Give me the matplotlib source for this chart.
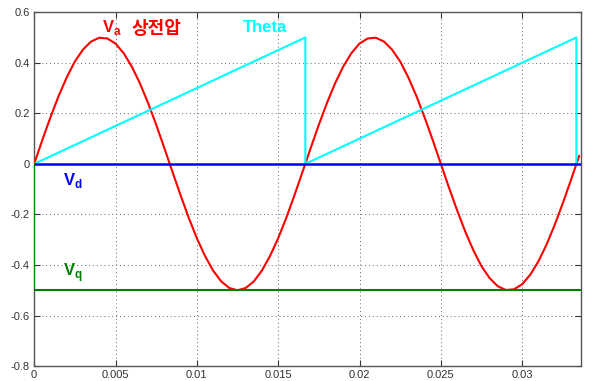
import matplotlib
matplotlib.use('Agg')
import matplotlib.pyplot as plt

plt.rcParams['font.family'] = ['Liberation Sans', 'Noto Sans CJK KR', 'DejaVu Sans']
plt.rcParams['mathtext.fontset'] = 'custom'
plt.rcParams['mathtext.rm'] = 'Liberation Sans:bold'
plt.rcParams['mathtext.bf'] = 'Liberation Sans:bold'

# time base for the phase voltage samples (s)
t_va = [i * 0.0005 for i in range(68)]
# Va phase voltage
va = [0.000, 0.094, 0.184, 0.268, 0.342, 0.405, 0.452, 0.484, 0.499, 0.496,
      0.476, 0.438, 0.385, 0.319, 0.241, 0.155, 0.063, -0.031, -0.124, -0.213,
      -0.294, -0.364, -0.422, -0.465, -0.491, -0.500, -0.491, -0.465, -0.422, -0.364,
      -0.294, -0.213, -0.124, -0.031, 0.063, 0.155, 0.241, 0.319, 0.385, 0.438,
      0.476, 0.496, 0.499, 0.484, 0.452, 0.405, 0.342, 0.268, 0.184, 0.094,
      0.000, -0.094, -0.184, -0.268, -0.342, -0.405, -0.452, -0.484, -0.499, -0.496,
      -0.476, -0.438, -0.385, -0.319, -0.241, -0.155, -0.063, 0.031]

# theta sawtooth
t_theta = [0, 0.01667, 0.01667, 0.03333, 0.03333]
theta = [0, 0.5, 0, 0.5, 0]

# d / q components
t_dq = [0, 0, 0.0336]
vd = [0, 0, 0]
vq = [0, -0.5, -0.5]

xticks = [0, 0.005, 0.01, 0.015, 0.02, 0.025, 0.03]
yticks = [-0.8, -0.6, -0.4, -0.2, 0, 0.2, 0.4, 0.6]

fig = plt.figure(figsize=(5.89, 3.81), dpi=100)
ax = fig.add_axes([0.058, 0.039, 0.928, 0.929])

ax.plot(t_va, va, color='#ff0000', lw=1.5, zorder=3)
ax.plot(t_theta, theta, color='#00ffff', lw=1.5, zorder=3)
ax.plot(t_dq, vd, color='#0000ff', lw=1.8, zorder=4)
ax.plot(t_dq, vq, color='#008000', lw=1.5, zorder=4)

ax.set_xlim(0, 0.0336)
ax.set_ylim(-0.8, 0.6)
ax.set_xticks(xticks)
ax.set_xticklabels(['0', '0.005', '0.01', '0.015', '0.02', '0.025', '0.03'])
ax.set_yticks(yticks)
ax.set_yticklabels(['-0.8', '-0.6', '-0.4', '-0.2', '0', '0.2', '0.4', '0.6'])
ax.tick_params(direction='in', length=4, labelsize=8, top=True, right=True,
               colors='#333333', pad=3)
for s in ax.spines.values():
    s.set_color('#555555')
    s.set_linewidth(1.0)
ax.grid(True, linestyle=(0, (1, 3)), color='#666666', lw=0.7)

kw = dict(fontweight='bold', fontsize=12)
ax.text(0.0042, 0.52, r'V$_\mathregular{a}$', color='#ff0000', **kw)
ax.text(0.0060, 0.515, '상전압', color='#ff0000',
        family=['Noto Sans CJK KR', 'DejaVu Sans'], fontweight='bold', fontsize=13)
ax.text(0.0128, 0.52, 'Theta', color='#00ffff', **kw)
ax.text(0.0018, -0.085, r'V$_\mathregular{d}$', color='#0000ff', **kw)
ax.text(0.0018, -0.445, r'V$_\mathregular{q}$', color='#008000', **kw)

fig.savefig('out.png', dpi=100)
